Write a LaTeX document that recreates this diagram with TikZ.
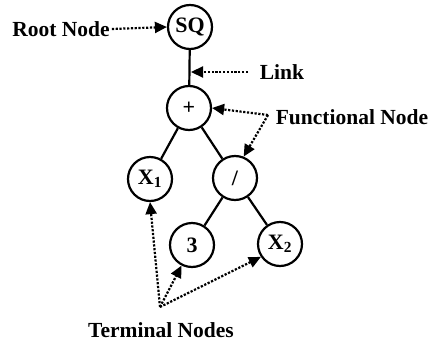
\documentclass[tikz,border=0pt]{standalone}
\usepackage{fontspec}
\setmainfont{Liberation Serif}
\usetikzlibrary{arrows.meta, positioning}
\tikzstyle{treenode} = [circle, draw=black, line width=2.2pt, minimum size=44pt, inner sep=0pt, font=\fontsize{22}{26}\selectfont\bfseries]
\tikzstyle{link} = [line width=2.2pt]
\tikzstyle{label} = [font=\fontsize{21.5}{25}\selectfont\bfseries, inner sep=0pt]
\tikzstyle{pointer} = [line width=2.2pt, dash pattern=on 2.2pt off 1.6pt, -{Triangle[length=12pt,width=11pt]}]

\begin{document}
\begin{tikzpicture}[x=1pt, y=-1pt]
\useasboundingbox (0,0) rectangle (431,343);
% Placement of nodes
\node (sq) [treenode] at (190,27) {SQ};
\node (plus) [treenode] at (189,108) {+};
\node (xOne) [treenode] at (150,179) {X\textsubscript{1}};
\node (div) [treenode] at (235,178) {/};
\node (three) [treenode] at (192,245) {3};
\node (xTwo) [treenode] at (280,244) {X\textsubscript{2}};

% Placement of edges
\draw [link] (sq) -- (plus);
\draw [link] (plus) -- (xOne);
\draw [link] (plus) -- (div);
\draw [link] (div) -- (three);
\draw [link] (div) -- (xTwo);

%% Label nodes AND pointers
\node (rootLbl) [label] at (61,29) {Root Node};
\draw [pointer] ([xshift=2pt]rootLbl.east) -- (sq.west);

\node (linkLbl) [label] at (282,72) {Link};
\coordinate (linkSrc) at (248,72);
\coordinate (linkDst) at (191,72);
\draw [pointer] (linkSrc) -- (linkDst);

\node (funcLbl) [label] at (352,117) {Functional Node};
\coordinate (funcSrc) at (268,115);
\draw [pointer] (funcSrc) -- (plus.east);
\draw [pointer] (funcSrc) -- (div.68);

\node (termLbl) [label] at (161,330) {Terminal Nodes};
\coordinate (termSrc) at (160,307);
\draw [pointer] (termSrc) -- (xOne.south);
\draw [pointer] (termSrc) -- (three.243);
\draw [pointer] (termSrc) -- (xTwo.214);

\end{tikzpicture}
\end{document}
